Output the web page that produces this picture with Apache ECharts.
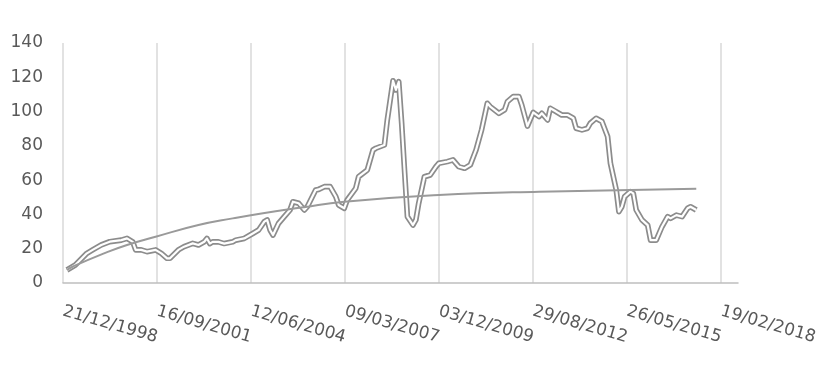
<!DOCTYPE html>
<html><head><meta charset="utf-8">
<script src="https://cdn.jsdelivr.net/npm/echarts@6/dist/echarts.min.js"></script>
<style>html,body{margin:0;padding:0;background:#fff}#c{width:836px;height:375px}</style>
</head><body><div id="c"></div>
<script>
// X axis: days counted from the first tick date; ticks every 1000 days
const axisStartDate = [1998, 12, 21];
const tickIntervalDays = 1000;
const axisEndDays = 7181;
const yMin = 0, yMax = 140, yStep = 20;

const priceMonths = [
 '1999-02','1999-05','1999-09','1999-11','2000-02','2000-05','2000-09','2000-11','2001-01','2001-02',
 '2001-04','2001-06','2001-09','2001-11','2002-01','2002-02','2002-05','2002-07','2002-10','2002-12',
 '2003-02','2003-03','2003-04','2003-05','2003-07','2003-09','2003-12','2004-01','2004-04','2004-07',
 '2004-09','2004-11','2004-12','2005-01','2005-02','2005-04','2005-06','2005-08','2005-09','2005-11',
 '2006-01','2006-02','2006-05','2006-06','2006-08','2006-10','2006-12','2007-01','2007-03','2007-04',
 '2007-07','2007-08','2007-11','2008-01','2008-02','2008-05','2008-06','2008-08','2008-09','2008-10',
 '2008-11','2008-12','2009-01','2009-03','2009-04','2009-05','2009-07','2009-09','2009-11','2009-12',
 '2010-03','2010-05','2010-07','2010-09','2010-11','2011-01','2011-03','2011-05','2011-06','2011-09',
 '2011-11','2011-12','2012-02','2012-04','2012-05','2012-07','2012-09','2012-11','2012-12','2013-02',
 '2013-03','2013-05','2013-07','2013-09','2013-11','2013-12','2014-02','2014-04','2014-05','2014-07',
 '2014-09','2014-11','2014-12','2015-02','2015-03','2015-04','2015-05','2015-07','2015-08','2015-09',
 '2015-11','2016-01','2016-02','2016-04','2016-06','2016-08','2016-09','2016-11','2017-01','2017-03',
 '2017-04','2017-06'
];
const priceValues = [
 7.6,10.5,17.3,19.3,22.2,24.1,25,26,24,19.3,
 19.3,18.3,19.3,17.3,14.4,14.4,19.3,21.2,23.1,22.2,
 24.1,26,23,24,24,23,24,25,26,28.9,
 30.9,35.8,36.8,30.9,28,34.8,38.7,42.6,47.4,46.5,
 42.6,44.5,54.2,54.6,56.2,56.2,50.4,45.5,43.6,48.4,
 55.2,62,65.9,77.6,78.6,80.5,95.1,118,112.6,117.4,
 93.2,66,38.7,33.8,36.8,46.5,62,63,67.9,69.8,
 70.8,71.8,67.9,66.9,68.9,77.6,89.3,104.8,102.9,99,
 101,105.8,108.7,108.7,103.9,91.5,99.5,97.1,99,95.1,
 101.9,100,98,98,96.1,90.3,89.3,90.3,93.2,96.1,
 94.2,85.4,69.8,54.2,41.6,44.5,50.4,53.3,52.3,42.6,
 36.8,33.8,25,25,32.8,38.7,37.7,39.6,38.7,43.6,
 44.5,42.6
];
const trendMonths = ['1999-02','1999-04','2000-03','2000-11','2001-09','2002-12','2003-12','2004-10','2005-12','2007-03','2009-12','2012-11','2017-06'];
const trendValues = [7.6,9.5,17.3,22.2,27,33.8,37.7,40.6,44,47.4,51.3,53.3,55];

const baseMs = Date.UTC(axisStartDate[0], axisStartDate[1]-1, axisStartDate[2]);
function dayOffset(ym){ const p = ym.split('-').map(Number); return (Date.UTC(p[0], p[1]-1, 1) - baseMs)/86400000; }
function pad(n){ return (n<10?'0':'')+n; }
function fmtDay(v){ const d = new Date(baseMs + v*86400000); return pad(d.getUTCDate())+'/'+pad(d.getUTCMonth()+1)+'/'+d.getUTCFullYear(); }

const priceData = priceMonths.map((m,i)=>[dayOffset(m), priceValues[i]]);
const trendData = trendMonths.map((m,i)=>[dayOffset(m), trendValues[i]]);

const textColor = '#595959';
const font = 'DejaVu Sans';
const chart = echarts.init(document.getElementById('c'), null, {renderer:'canvas'});
chart.setOption({
  animation:false,
  backgroundColor:'#fff',
  grid:{left:63,right:98,top:43,bottom:92,outerBoundsMode:'none',containLabel:false},
  xAxis:{
    type:'value', min:0, max:axisEndDays, interval:tickIntervalDays,
    axisLine:{show:true,lineStyle:{color:'#bfbfbf',width:1.5}},
    axisTick:{show:false},
    splitLine:{show:true,showMaxLine:false,lineStyle:{color:'#d9d9d9',width:1.5}},
    axisLabel:{rotate:-16,margin:28,color:textColor,fontSize:17,fontFamily:font,showMaxLabel:false,
      formatter:function(v){ return (v % tickIntervalDays === 0) ? fmtDay(v) : ''; }}
  },
  yAxis:{
    type:'value', min:yMin, max:yMax, interval:yStep,
    axisLine:{show:false}, axisTick:{show:false}, splitLine:{show:false},
    axisLabel:{color:textColor,fontSize:17,fontFamily:font,margin:20,padding:[4,0,0,0]}
  },
  series:[
    {type:'line',data:priceData,showSymbol:false,z:2,lineStyle:{color:'#8c8c8c',width:5.6,join:'round'}},
    {type:'line',data:priceData,showSymbol:false,z:3,lineStyle:{color:'#ffffff',width:2.2,join:'round'}},
    {type:'line',data:trendData,showSymbol:false,smooth:true,z:4,lineStyle:{color:'#9a9a9a',width:2}}
  ]
});
</script></body></html>
